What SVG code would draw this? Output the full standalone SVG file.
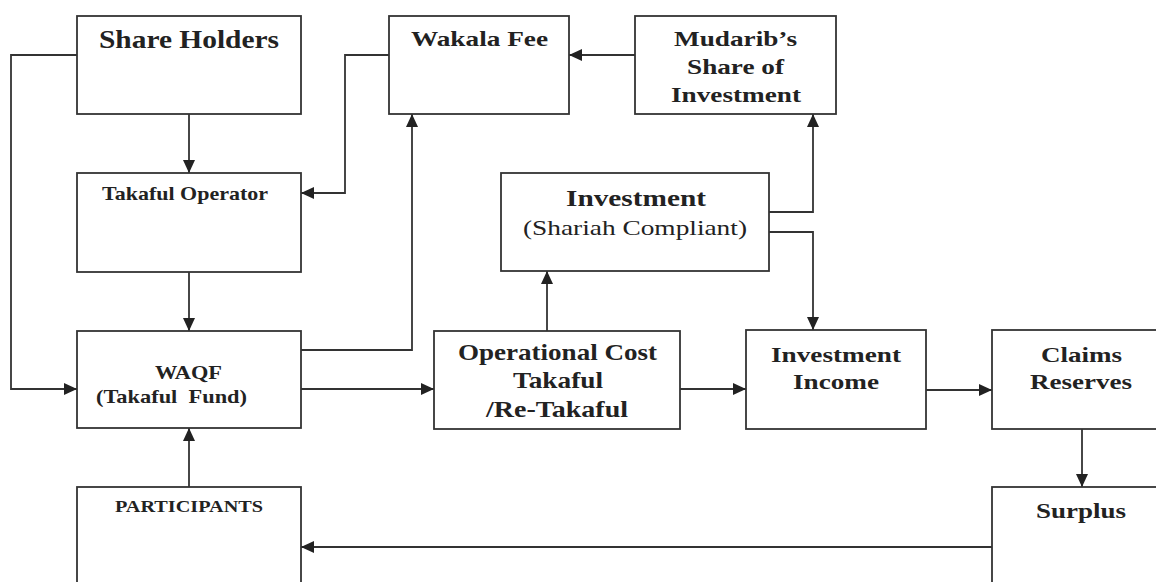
<svg xmlns="http://www.w3.org/2000/svg" width="1156" height="582" viewBox="0 0 1156 582">
<style>
.box{fill:#fff;stroke:#333;stroke-width:1.8}
.c{fill:none;stroke:#333;stroke-width:1.8}
.t{font-family:"Liberation Serif","Times New Roman",serif;font-weight:bold;fill:#222}
.r{font-family:"Liberation Serif","Times New Roman",serif;font-weight:normal;fill:#222}
</style>
<defs>
<marker id="ah" markerUnits="userSpaceOnUse" markerWidth="13" markerHeight="12" refX="13" refY="6" orient="auto">
<path d="M0,0 L13,6 L0,12 z" fill="#222"/>
</marker>
</defs>
<rect width="1156" height="582" fill="#fff"/>
<g id="connectors">
<path class="c" d="M77,55 H11 V389 H77" marker-end="url(#ah)"/>
<path class="c" d="M189,114 V173" marker-end="url(#ah)"/>
<path class="c" d="M189,272 V331" marker-end="url(#ah)"/>
<path class="c" d="M389,55 H345 V193 H301" marker-end="url(#ah)"/>
<path class="c" d="M635,55 H569" marker-end="url(#ah)"/>
<path class="c" d="M301,350 H412 V114" marker-end="url(#ah)"/>
<path class="c" d="M301,389 H434" marker-end="url(#ah)"/>
<path class="c" d="M547,331 V271" marker-end="url(#ah)"/>
<path class="c" d="M769,212 H813 V114" marker-end="url(#ah)"/>
<path class="c" d="M769,232 H813 V330" marker-end="url(#ah)"/>
<path class="c" d="M680,389 H746" marker-end="url(#ah)"/>
<path class="c" d="M926,390 H992" marker-end="url(#ah)"/>
<path class="c" d="M1082,429 V487" marker-end="url(#ah)"/>
<path class="c" d="M992,547 H301" marker-end="url(#ah)"/>
<path class="c" d="M189,487 V428" marker-end="url(#ah)"/>
</g>
<g id="share-holders">
<rect class="box" x="77" y="16" width="224" height="98"/>
<text class="t" x="99" y="48" font-size="26" textLength="180" lengthAdjust="spacingAndGlyphs">Share Holders</text>
</g>
<g id="takaful-operator">
<rect class="box" x="77" y="173" width="224" height="99"/>
<text class="t" x="102" y="200" font-size="19" textLength="166" lengthAdjust="spacingAndGlyphs">Takaful Operator</text>
</g>
<g id="wakala-fee">
<rect class="box" x="389" y="16" width="180" height="98"/>
<text class="t" x="411" y="46" font-size="22" textLength="137" lengthAdjust="spacingAndGlyphs">Wakala Fee</text>
</g>
<g id="mudarib">
<rect class="box" x="635" y="16" width="201" height="98"/>
<text class="t" x="674" y="46" font-size="22" textLength="123" lengthAdjust="spacingAndGlyphs">Mudarib’s</text>
<text class="t" x="687" y="74" font-size="22" textLength="97" lengthAdjust="spacingAndGlyphs">Share of</text>
<text class="t" x="671" y="102" font-size="22" textLength="130" lengthAdjust="spacingAndGlyphs">Investment</text>
</g>
<g id="investment">
<rect class="box" x="501" y="173" width="268" height="98"/>
<text class="t" x="566" y="206" font-size="23" textLength="140" lengthAdjust="spacingAndGlyphs">Investment</text>
<text class="r" x="523" y="235" font-size="22" textLength="224" lengthAdjust="spacingAndGlyphs">(Shariah Compliant)</text>
</g>
<g id="waqf">
<rect class="box" x="77" y="331" width="224" height="97"/>
<text class="t" x="155" y="379" font-size="19" textLength="67" lengthAdjust="spacingAndGlyphs">WAQF</text>
<text class="t" x="96" y="403" font-size="19" textLength="151" lengthAdjust="spacingAndGlyphs" style="white-space:pre">(Takaful  Fund)</text>
</g>
<g id="operational-cost">
<rect class="box" x="434" y="331" width="246" height="98"/>
<text class="t" x="458" y="360" font-size="23" textLength="199" lengthAdjust="spacingAndGlyphs">Operational Cost</text>
<text class="t" x="513" y="388" font-size="23" textLength="90" lengthAdjust="spacingAndGlyphs">Takaful</text>
<text class="t" x="486" y="417" font-size="23" textLength="142" lengthAdjust="spacingAndGlyphs">/Re-Takaful</text>
</g>
<g id="investment-income">
<rect class="box" x="746" y="330" width="180" height="99"/>
<text class="t" x="771" y="362" font-size="22" textLength="130" lengthAdjust="spacingAndGlyphs">Investment</text>
<text class="t" x="793" y="389" font-size="22" textLength="86" lengthAdjust="spacingAndGlyphs">Income</text>
</g>
<g id="claims-reserves">
<rect class="box" x="992" y="330" width="180" height="99"/>
<text class="t" x="1041" y="362" font-size="22" textLength="81" lengthAdjust="spacingAndGlyphs">Claims</text>
<text class="t" x="1030" y="389" font-size="22" textLength="102" lengthAdjust="spacingAndGlyphs">Reserves</text>
</g>
<g id="surplus">
<rect class="box" x="992" y="487" width="180" height="120"/>
<text class="t" x="1036" y="518" font-size="22" textLength="90" lengthAdjust="spacingAndGlyphs">Surplus</text>
</g>
<g id="participants">
<rect class="box" x="77" y="487" width="224" height="120"/>
<text class="t" x="115" y="512" font-size="17" textLength="148" lengthAdjust="spacingAndGlyphs">PARTICIPANTS</text>
</g>
</svg>
